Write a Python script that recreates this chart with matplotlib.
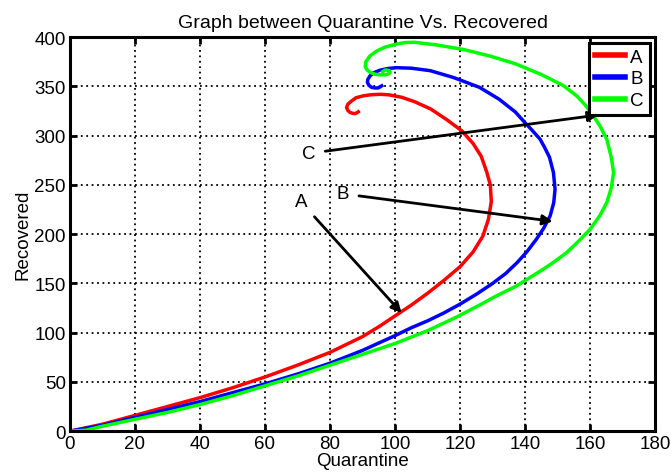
import numpy as np
import matplotlib.pyplot as plt

plt.rcParams['font.family'] = ['Liberation Sans', 'DejaVu Sans']

# curve A (red)
a_x = [0, 10, 20, 30, 40, 50, 60, 70, 80, 90, 95, 100, 105, 110, 115, 120, 124, 127,
       128.7, 129.6, 129.3, 128.2, 126.5, 124, 120.5, 116, 111, 106, 102, 98, 95.4,
       92.5, 90.2, 88, 86.7, 85.5, 85.1, 85.5, 86.2, 87, 87.7, 88.3, 88.7]
a_y = [0, 7, 16, 25, 34, 44, 55, 67, 80, 96, 106, 117, 128, 140, 153, 167, 182, 198,
       215, 233, 250, 263, 279, 292, 305, 316, 327, 334.5, 339, 341.5, 342,
       341.5, 340.4, 338.5, 335.4, 332, 328.6, 325.5, 323.5, 322.6, 322.5, 323.2, 324.2]

# curve B (blue)
b_x = [0, 10, 20, 30, 40, 50, 60, 70, 80, 90, 100, 105, 110, 115, 120, 125, 130, 134,
       137.5, 140.5, 143.5, 145.7, 147.7, 148.8, 149.2, 148.7, 147.5, 146, 144.6, 142,
       140, 137, 132, 126, 118, 110.8, 105, 100.5, 98, 95.4, 93.5, 92.3, 91.6, 91.5, 92,
       92.8, 94, 94.9, 95.9]
b_y = [0, 6, 14, 22, 30, 39, 48, 58, 69, 82, 97, 105, 112, 120, 129, 139, 150, 160,
       171, 182, 195, 206, 218.6, 232, 245.7, 262.6, 278, 288, 296.4, 306,
       313, 324, 337, 349, 359, 366, 368.5, 369, 368.3, 366.5, 364, 360.7, 357, 354, 351,
       349, 348.4, 348.5, 350.6]

# curve C (green)
c_x = [0, 5, 10, 20, 30, 40, 50, 60, 70, 80, 90, 100, 110, 119, 126, 131, 137.4, 141.5,
       145.6, 149, 152.8, 156.5, 160, 163, 165.1, 166.5, 167.2, 166.5, 165.1, 163, 161,
       158.5, 156, 151.7, 145, 137, 129, 121, 113, 106, 103, 100.5, 97, 94.4, 92.3, 91,
       90.8, 91.5, 92.3, 93.8, 95.4, 97, 98, 98.5, 98.3, 97.5, 96.9, 96.2]
c_y = [0, 1, 5, 12, 19, 27, 36, 46, 56, 67, 78, 89, 102, 116, 128, 137, 147.5, 156,
       164.5, 172, 181.4, 193, 205, 219, 232, 247, 262.6, 278, 296.4, 310, 320,
       331, 340, 351, 362, 373, 381, 387.5, 392, 394.8, 394.5, 393, 390, 386, 381, 375,
       370, 366.5, 364.3, 362.4, 361.7, 361.8, 362.6, 364, 365.8, 366.6, 366.5, 365]

labels = ['A', 'B', 'C']
# annotation text position and arrow tip
note_text = [(71, 233), (84, 241), (73.5, 282)]
note_tip = [(102, 120), (148.5, 213), (162.5, 321)]

fig = plt.figure(figsize=(6.72, 4.77), dpi=100)
ax = fig.add_axes([0.104, 0.094, 0.871, 0.826])

ax.plot(a_x, a_y, color='#ff0000', lw=2.5, label='A')
ax.plot(b_x, b_y, color='#0000ff', lw=2.5, label='B')
ax.plot(c_x, c_y, color='#00ff00', lw=2.5, label='C')

for lab, (tx, ty), (hx, hy) in zip(labels, note_text, note_tip):
    ax.annotate(lab, xy=(hx, hy), xytext=(tx, ty), fontsize=13.5, ha='center', va='center',
                arrowprops=dict(arrowstyle='-|>', color='black', lw=2,
                                mutation_scale=15, shrinkA=5, shrinkB=0))

ax.set_xlim(0, 180)
ax.set_ylim(0, 400)
ax.set_xticks(np.arange(0, 181, 20))
ax.set_yticks(np.arange(0, 401, 50))
ax.grid(True, color='black', linestyle=(0, (1, 2)), lw=1.3)
ax.tick_params(direction='in', length=5, width=2, labelsize=13.5, top=True, right=True, pad=3)
for s in ax.spines.values():
    s.set_linewidth(2.2)

ax.set_xlabel('Quarantine', fontsize=13.5, labelpad=0)
ax.set_ylabel('Recovered', fontsize=13.5, labelpad=2)
ax.set_title('Graph between Quarantine Vs. Recovered', fontsize=14, pad=7)

leg = ax.legend(loc='upper right', fontsize=13.5, fancybox=False, framealpha=1,
                edgecolor='black', borderaxespad=0.3, handlelength=1.6,
                handletextpad=0.3, labelspacing=0.25, borderpad=0.3)
leg.get_frame().set_linewidth(2.2)
for line in leg.get_lines():
    line.set_linewidth(4)

fig.savefig('out.png', dpi=100)
